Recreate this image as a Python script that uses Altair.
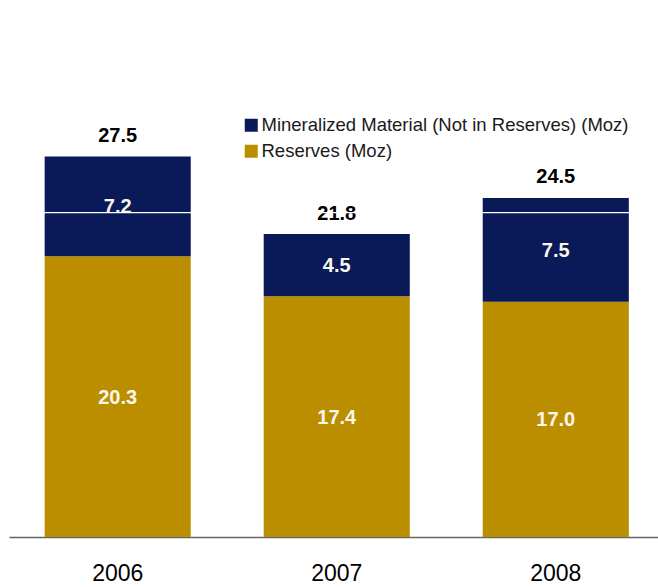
import altair as alt
import pandas as pd

years = ["2006", "2007", "2008"]
reserves = [20.3, 17.4, 17.0]
mineralized = [7.2, 4.5, 7.5]
totals = [27.5, 21.8, 24.5]
series_names = ["Mineralized Material (Not in Reserves) (Moz)", "Reserves (Moz)"]
series_colors = ["#0A1958", "#BB8E00"]
gridline_values = [23.45]

FONT = "Liberation Sans"

rows = []
for y, r, m in zip(years, reserves, mineralized):
    rows.append({"year": y, "series": series_names[1], "value": r, "order": 0})
    rows.append({"year": y, "series": series_names[0], "value": m, "order": 1})
df = pd.DataFrame(rows)
tot_df = pd.DataFrame({"year": years, "total": totals})
grid_df = pd.DataFrame({"g": gridline_values})

xenc = alt.X(
    "year:N",
    scale=alt.Scale(paddingInner=0.333, paddingOuter=0.148, align=0.55),
    axis=alt.Axis(
        title=None, labelAngle=0, ticks=False, domainColor="#666666", domainWidth=1.5,
        labelFontSize=23, labelFont=FONT, labelColor="#000000", labelPadding=25,
    ),
)
yscale = alt.Scale(domain=[0, 30])

bars = alt.Chart(df).mark_bar().encode(
    x=xenc,
    y=alt.Y("value:Q", scale=yscale, axis=None, stack="zero"),
    color=alt.Color(
        "series:N",
        scale=alt.Scale(domain=series_names, range=series_colors),
        legend=alt.Legend(
            title=None, orient="none", legendX=233, legendY=-6,
            symbolType="square", symbolSize=169, symbolStrokeWidth=0,
            labelFont=FONT, labelFontSize=18.5, labelColor="#1a1a1a",
            labelOffset=1, rowPadding=7, labelLimit=1000,
        ),
    ),
    order=alt.Order("order:Q"),
)

seg_labels = alt.Chart(df).transform_stack(
    stack="value", groupby=["year"], as_=["v0", "v1"], sort=[alt.SortField("order", "ascending")]
).transform_calculate(
    mid="(datum.v0 + datum.v1) / 2"
).mark_text(
    font=FONT, fontSize=20, fontWeight="bold", color="#FAF6EC", baseline="middle", dy=1
).encode(
    x=alt.X("year:N"),
    y=alt.Y("mid:Q", scale=yscale),
    text=alt.Text("value:Q", format=".1f"),
)

tot_labels = alt.Chart(tot_df).mark_text(
    font=FONT, fontSize=20, fontWeight="bold", color="black", baseline="alphabetic", dy=-15
).encode(
    x=alt.X("year:N"),
    y=alt.Y("total:Q", scale=yscale),
    text=alt.Text("total:Q", format=".1f"),
)

grid = alt.Chart(grid_df).mark_rule(color="white", strokeWidth=1.3).encode(
    y=alt.Y("g:Q", scale=yscale)
)

chart = alt.layer(bars, seg_labels, tot_labels, grid).properties(
    width=649, height=415,
    background="white",
    autosize=alt.AutoSizeParams(type="none"),
    padding={"left": 9, "top": 122, "right": 0, "bottom": 50},
).configure_view(stroke=None)

chart.save("out.html", embed_options={"renderer": "svg", "actions": False})
